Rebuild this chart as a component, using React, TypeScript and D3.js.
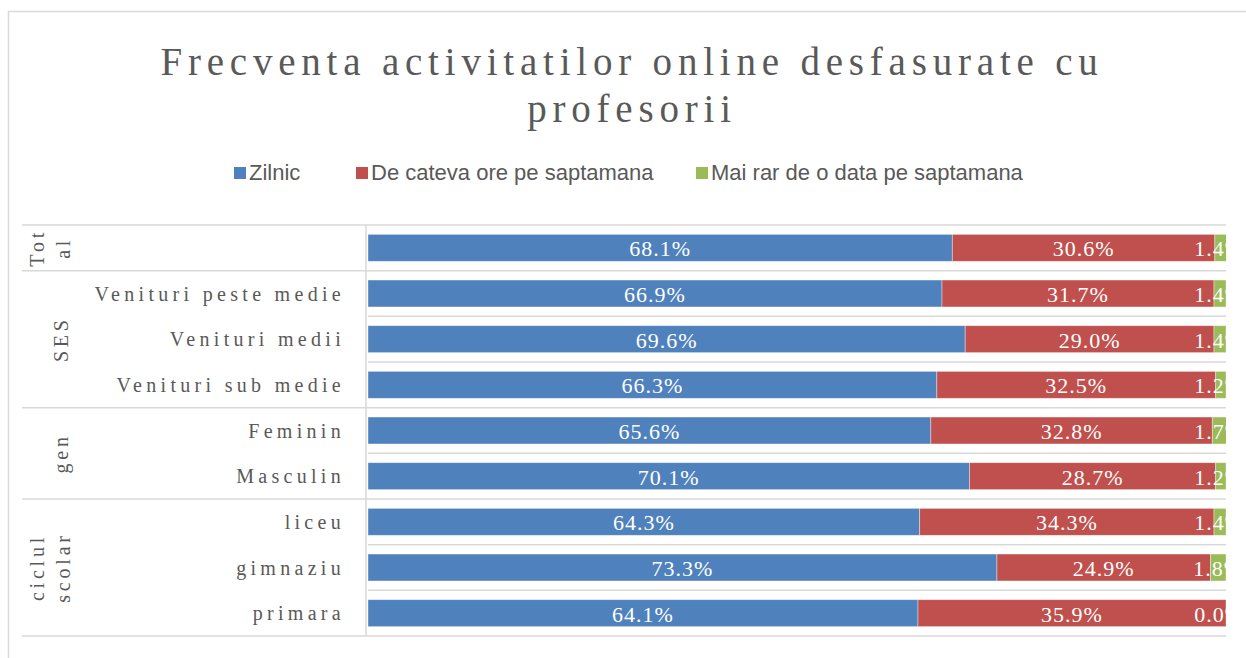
import { useEffect, useRef } from "react";
import * as d3 from "d3";

const series = ["Zilnic", "De cateva ore pe saptamana", "Mai rar de o data pe saptamana"];
const colors = ["#4F81BD", "#C0504D", "#9BBB59"];

const rowLabels = [
  "",
  "Venituri peste medie",
  "Venituri medii",
  "Venituri sub medie",
  "Feminin",
  "Masculin",
  "liceu",
  "gimnaziu",
  "primara",
];
const groupLabels = [["Tot", "al"], ["SES"], ["gen"], ["ciclul", "scolar"]];
const groupSizes = [1, 3, 2, 3];

const zilnic = [68.1, 66.9, 69.6, 66.3, 65.6, 70.1, 64.3, 73.3, 64.1];
const cateva = [30.6, 31.7, 29.0, 32.5, 32.8, 28.7, 34.3, 24.9, 35.9];
const rar = [1.4, 1.4, 1.4, 1.2, 1.7, 1.2, 1.4, 1.8, 0.0];

const W = 1246,
  H = 658;

export default function App() {
  const ref = useRef<SVGSVGElement>(null);

  useEffect(() => {
    const svg = d3.select(ref.current!);
    svg.selectAll("*").remove();

    const m = { left: 368, right: 1226, top: 225, bottom: 636 };
    const grey = "#595959";
    const gridc = "#d9d9d9";

    // outer chart frame
    svg
      .append("rect")
      .attr("x", 8.5)
      .attr("y", 11.5)
      .attr("width", W + 20)
      .attr("height", H + 20)
      .attr("fill", "#fff")
      .attr("stroke", gridc)
      .attr("stroke-width", 1.5);

    /* ── TITLE ─────────────────────────── */
    const title = svg
      .append("text")
      .attr("text-anchor", "middle")
      .attr("font-family", "'Liberation Serif', serif")
      .attr("font-size", 39)
      .attr("letter-spacing", 5.8)
      .attr("fill", grey);
    title.append("tspan").attr("x", 632).attr("y", 75).text("Frecventa activitatilor online desfasurate cu");
    title.append("tspan").attr("x", 632).attr("y", 122).text("profesorii");

    /* ── LEGEND ─────────────────────────── */
    const legX = [234, 356, 696];
    const leg = svg.append("g");
    series.forEach((s, i) => {
      leg
        .append("rect")
        .attr("x", legX[i])
        .attr("y", 167)
        .attr("width", 12)
        .attr("height", 12)
        .attr("fill", colors[i]);
      leg
        .append("text")
        .attr("x", legX[i] + 15)
        .attr("y", 180)
        .attr("font-family", "'Liberation Sans Narrow', 'Liberation Sans', sans-serif")
        .attr("font-size", 22)
        .attr("fill", grey)
        .text(s);
    });

    /* ── SCALES ─────────────────────────── */
    const x = d3.scaleLinear().domain([0, 100]).range([m.left, m.right]);
    const idx = rowLabels.map((_, i) => String(i));
    const y = d3
      .scaleBand()
      .domain(idx)
      .range([m.top, m.bottom])
      .paddingInner(0.41)
      .paddingOuter(0.205);
    const step = y.step();

    /* ── GRID ─────────────────────────── */
    const bounds = d3.range(rowLabels.length + 1).map((i) => m.top + i * step);
    const groupEnds = Array.from(d3.cumsum(groupSizes));
    const isGroupBound = (i: number) => i === 0 || groupEnds.includes(i);
    svg
      .append("g")
      .selectAll("line")
      .data(bounds)
      .join("line")
      .attr("x1", (_, i) => (isGroupBound(i) ? 22 : m.left))
      .attr("x2", m.right)
      .attr("y1", (d) => d)
      .attr("y2", (d) => d)
      .attr("stroke", gridc)
      .attr("stroke-width", 1.5);

    svg
      .append("line")
      .attr("x1", m.left - 2)
      .attr("x2", m.left - 2)
      .attr("y1", m.top)
      .attr("y2", m.bottom)
      .attr("stroke", gridc)
      .attr("stroke-width", 1.5);

    /* ── BARS ─────────────────────────── */
    svg
      .append("clipPath")
      .attr("id", "plotclip")
      .append("rect")
      .attr("x", m.left)
      .attr("y", m.top)
      .attr("width", m.right - m.left)
      .attr("height", m.bottom - m.top);

    const rows = rowLabels.map((_, i) => ({ i, v: [zilnic[i], cateva[i], rar[i]] }));
    const stack = d3
      .stack<{ i: number; v: number[] }, number>()
      .keys([0, 1, 2])
      .value((d, k) => d.v[k]);
    const layers = stack(rows);

    const plot = svg.append("g").attr("clip-path", "url(#plotclip)");
    layers.forEach((layer, k) => {
      plot
        .append("g")
        .selectAll("rect")
        .data(layer)
        .join("rect")
        .attr("x", (d) => x(d[0]))
        .attr("y", (d) => y(String(d.data.i))!)
        .attr("width", (d) => Math.max(0, x(d[1]) - x(d[0])))
        .attr("height", y.bandwidth())
        .attr("fill", colors[k])
        .attr("stroke", "#fff")
        .attr("stroke-opacity", 0.5)
        .attr("stroke-width", 0.75);
    });

    // labels that would run past the chart edge get pushed back inside it
    const labelLimit = W - 2;
    layers.forEach((layer) => {
      plot
        .append("g")
        .selectAll("text")
        .data(layer)
        .join("text")
        .attr("text-anchor", "middle")
        .attr("dominant-baseline", "central")
        .attr("y", (d) => y(String(d.data.i))! + y.bandwidth() / 2 + 1)
        .attr("font-family", "'Liberation Serif', serif")
        .attr("font-size", 22)
        .attr("letter-spacing", 1)
        .attr("fill", "#fff")
        .text((d) => `${(d[1] - d[0]).toFixed(1)}%`)
        .each(function (d) {
          const w = (this as SVGTextElement).getComputedTextLength();
          let cx = (x(d[0]) + x(d[1])) / 2;
          if (cx + w / 2 > labelLimit) cx = labelLimit - w / 2;
          d3.select(this).attr("x", cx);
        });
    });

    /* ── CATEGORY LABELS ─────────────────────────── */
    svg
      .append("g")
      .selectAll("text")
      .data(rowLabels)
      .join("text")
      .attr("x", 345)
      .attr("y", (_, i) => y(String(i))! + y.bandwidth() / 2)
      .attr("text-anchor", "end")
      .attr("dominant-baseline", "central")
      .attr("font-family", "'Liberation Serif', serif")
      .attr("font-size", 20)
      .attr("letter-spacing", 4.3)
      .attr("fill", grey)
      .text((d) => d);

    /* ── GROUP LABELS ─────────────────────────── */
    const starts = [0, ...groupEnds.slice(0, -1)];
    groupLabels.forEach((lines, g) => {
      const cy = m.top + (starts[g] + groupSizes[g] / 2) * step;
      const lineGap = 26;
      const cx = lines.length === 1 ? 61 : 50;
      lines.forEach((ln, j) => {
        const lx = cx + (j - (lines.length - 1) / 2) * lineGap;
        svg
          .append("text")
          .attr("transform", `translate(${lx},${cy}) rotate(-90)`)
          .attr("text-anchor", "middle")
          .attr("dominant-baseline", "central")
          .attr("font-family", "'Liberation Serif', serif")
          .attr("font-size", 20)
          .attr("letter-spacing", 3.8)
          .attr("fill", grey)
          .text(ln);
      });
    });
  }, []);

  return (
    <svg
      ref={ref}
      width={W}
      height={H}
      style={{ position: "absolute", left: 0, top: 0, background: "#fff" }}
    />
  );
}
